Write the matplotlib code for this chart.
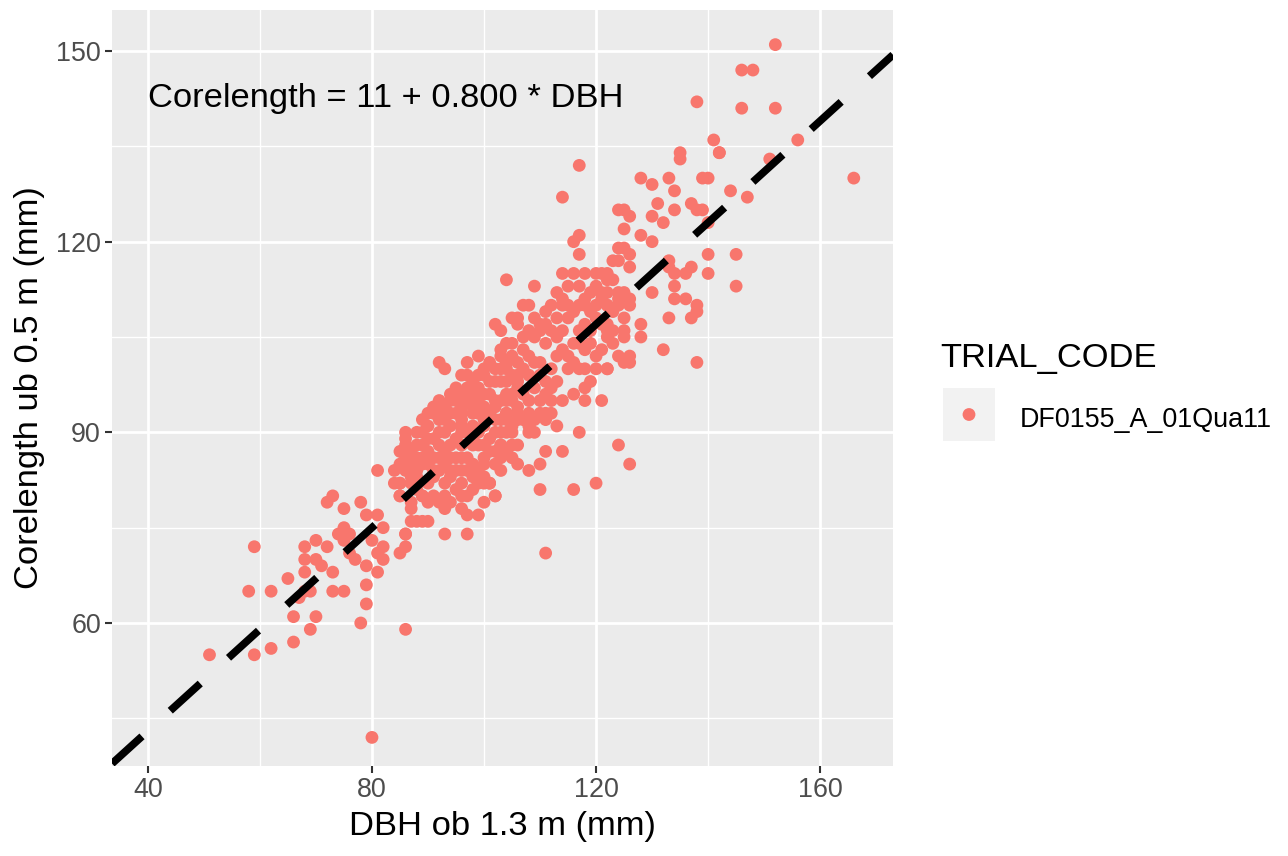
import matplotlib
matplotlib.use("Agg")
import matplotlib.pyplot as plt
import numpy as np

plt.rcParams['font.family'] = ['Liberation Sans', 'DejaVu Sans']

# DBH (mm) / core length (mm)
pts_low = [(51,55),(59,55),(62,56),(58,65),(59,72),(62,65),(65,67),(66,57),(66,61),(70,61),
           (69,59),(78,60),(86,59),(80,42),(68,72),(70,73),(72,72),(68,70),(70,70),(71,69),
           (68,68),(73,68),(68,65),(69,65),(73,65),(75,65),(67,64),(73,80),(72,79),(75,78),
           (78,79),(75,75),(74,74),(76,74),(75,73),(76,71),(77,70),(79,69),(81,68),(80,73),
           (82,72),(81,71),(82,70),(79,66),(79,63),(79,77),(81,77),(82,75),(86,74),(86,72),
           (85,71),(85,82),(85,80),(87,78),(88,76),(89,76),(89,80),(81,84)]

pts_core = [(94,95),(96,94),(97,95),(99,95),(102,95),(104,95),(91,93),(92,93),(89,92),(95,93),
            (98,93),(102,92),(104,93),(86,90),(86,89),(89,90),(92,90),(93,90),(95,89),(97,90),
            (99,90),(102,90),(104,90),(85,87),(87,87),(90,87),(92,88),(93,87),(96,86),(98,88),
            (101,87),(103,88),(104,87),(85,85),(84,84),(87,85),(89,85),(91,84),(93,85),(95,84),
            (97,84),(100,85),(102,85),(85,82),(87,82),(91,83),(93,82),(94,83),(96,82),(99,82),
            (101,82),(85,80),(87,79),(89,80),(92,79),(93,80),(102,80),(96,78),(87,76),(90,76),
            (86,74),(93,74),(97,74),(104,114),(102,107),(103,106),(105,108),(103,103),(105,104),
            (92,101),(93,100),(97,99),(100,100),(100,99),(98,98),(102,98),(103,98),(99,97),(95,97),
            (94,96),(100,96),(105,96),(91,94),(93,94),(106,99),(90,91),(94,91),(96,91),(98,91),
            (100,91),(92,92),(96,92),(100,92),(88,88),(90,89),(94,88),(96,88),(99,88),(91,86),
            (94,86),(97,86),(100,86),(88,84),(99,84),(90,82),(95,81),(97,80),(98,83),(96,96),
            (98,96),(101,96),(96,99),(99,102),(101,101),(97,101),(101,93),(99,93),(88,83),(91,80),
            (93,78),(97,77),(100,79),(99,77),(87,86),(89,88),(92,84),(95,86),(103,92),(101,89),
            (86,88),(88,90),(90,93),(92,95),(94,93),(96,90),(98,89),(100,88),(102,87),(100,83),
            (98,81),(96,84),(94,84),(92,86),(90,85),(88,86),(86,86),(84,82),(86,84),(88,81),
            (90,79),(94,79),(96,80),(98,85),(100,82),(103,84),(98,94),(100,94),(102,94),(96,93),
            (95,95),(93,92),(91,89),(89,86),(87,83),(97,97),(99,99),(101,98),(102,100)]

pts_mid = [(107,110),(108,110),(112,110),(114,110),(118,110),(120,110),(122,110),(106,108),(106,107),
           (110,107),(111,107),(115,108),(117,110),(118,107),(121,107),(108,106),(110,106),(113,105),
           (117,106),(122,106),(104,104),(107,103),(114,103),(117,104),(118,103),(119,104),(103,102),
           (113,102),(115,102),(120,102),(124,102),(109,101),(110,101),(115,100),(117,100),(118,100),
           (120,100),(122,100),(105,99),(104,98),(106,98),(108,99),(110,99),(109,97),(112,97),(118,97),
           (103,95),(105,95),(108,95),(110,95),(112,95),(114,95),(118,95),(121,95),(104,93),(106,93),
           (108,93),(111,93),(104,92),(106,92),(109,92),(111,92),(105,91),(108,91),(103,90),(105,90),
           (108,90),(117,90),(124,88),(103,88),(105,88),(104,87),(111,87),(114,87),(106,85),(110,85),
           (108,84),(120,82),(103,86),(105,86),(101,82),(102,80),(110,81),(116,81),(126,85),(111,71),
           (106,88),(107,92),(109,90),(110,93),(107,96),(106,97),(104,100),(106,101),(108,102),
           (107,105),(109,105),(111,104),(112,100),(111,98),(113,98),(106,94),(104,96),(104,101),
           (105,102),(103,100),(107,100),(111,96),(112,93),(113,91),(116,96),(119,98),(116,101),
           (119,106),(120,108),(116,109),(113,108),(112,106),(109,108),(111,109),(113,112),
           (115,110),(119,109),(123,109),(123,104),(121,103),(116,104),(114,106)]

pts_upper = [(117,132),(114,127),(117,121),(116,120),(117,118),(124,125),(125,122),(124,119),(123,117),
             (114,115),(116,115),(118,115),(120,115),(121,115),(122,115),(123,114),(109,113),(115,113),
             (117,113),(120,113),(114,111),(121,112),(121,111),(119,112),(118,111),(124,111),(126,111),
             (125,112),(126,118),(126,116),(128,121)]

pts_right = [(135,134),(135,133),(142,134),(128,130),(130,129),(133,130),(134,128),(140,130),(144,128),
             (125,125),(126,124),(131,126),(130,124),(132,123),(134,125),(137,126),(138,125),(140,123),
             (139,125),(130,120),(125,119),(124,117),(133,117),(133,116),(137,116),(140,118),(145,118),
             (134,115),(136,115),(140,115),(134,113),(145,113),(130,112),(134,111),(136,111),(138,110),
             (138,109),(137,108),(133,108),(132,103),(138,101),(128,107),(125,106),(128,105),(125,105),
             (126,102),(125,101),(126,101),(122,100),(124,112),(124,110),(126,110),(125,108),(122,110),
             (122,114),(122,112),(122,107),(122,105),(123,106),(152,151),(146,147),(148,147),(138,142),
             (146,141),(152,141),(141,136),(156,136),(142,134),(151,133),(139,130),(166,130),(147,127)]

all_pts = pts_low + pts_core + pts_mid + pts_upper + pts_right
dbh = np.array([p[0] for p in all_pts])
core = np.array([p[1] for p in all_pts])

intercept = 11
slope = 0.800
trial = "DF0155_A_01Qua11"

fig = plt.figure(figsize=(12.88, 8.56), dpi=100)
ax = fig.add_axes([112/1288, 90/856, (893-112)/1288, (766-10)/856])
ax.set_facecolor('#EBEBEB')
for s in ax.spines.values():
    s.set_visible(False)

ax.set_xlim(33.6, 173.0)
ax.set_ylim(37.5, 156.45)
ax.set_xticks([40, 80, 120, 160])
ax.set_yticks([60, 90, 120, 150])
ax.set_xticks([60, 100, 140], minor=True)
ax.set_yticks([45, 75, 105, 135], minor=True)
ax.grid(True, which='major', color='white', lw=2.0)
ax.grid(True, which='minor', color='white', lw=1.0)
ax.set_axisbelow(True)
ax.tick_params(which='major', length=5, width=1.5, color='#333333', labelsize=19.4,
               labelcolor='#4D4D4D', pad=3)
ax.tick_params(which='minor', length=0)

ax.scatter(dbh, core, s=85, color='#F8766D', edgecolors='none', zorder=3)

xl = np.array(ax.get_xlim())
ax.plot(xl, intercept + slope*xl, color='black', lw=5.5, ls=(0, (5.3, 5.0)),
        solid_capstyle='butt', dash_capstyle='butt', zorder=4)

ax.text(40, 142.6, "Corelength = %d + %.3f * DBH" % (intercept, slope),
        fontsize=24.8, ha='left', va='center', color='black')

ax.set_xlabel("DBH ob 1.3 m (mm)", fontsize=24.8, labelpad=6)
ax.set_ylabel("Corelength ub 0.5 m (mm)", fontsize=24.8, labelpad=8)

# legend
fig.text(940/1288, 1-358/856, "TRIAL_CODE", fontsize=24.8, ha='left', va='center')
kax = fig.add_axes([943/1288, 1-441/856, 52/1288, 53/856])
kax.set_facecolor('#F2F2F2')
kax.set_xticks([]); kax.set_yticks([])
for s in kax.spines.values():
    s.set_visible(False)
kax.set_xlim(0, 1); kax.set_ylim(0, 1)
kax.scatter([0.5], [0.5], s=85, color='#F8766D', edgecolors='none')
fig.text(1020/1288, 1-420/856, trial, fontsize=19.4, ha='left', va='center')

fig.savefig("out.png", dpi=100)
